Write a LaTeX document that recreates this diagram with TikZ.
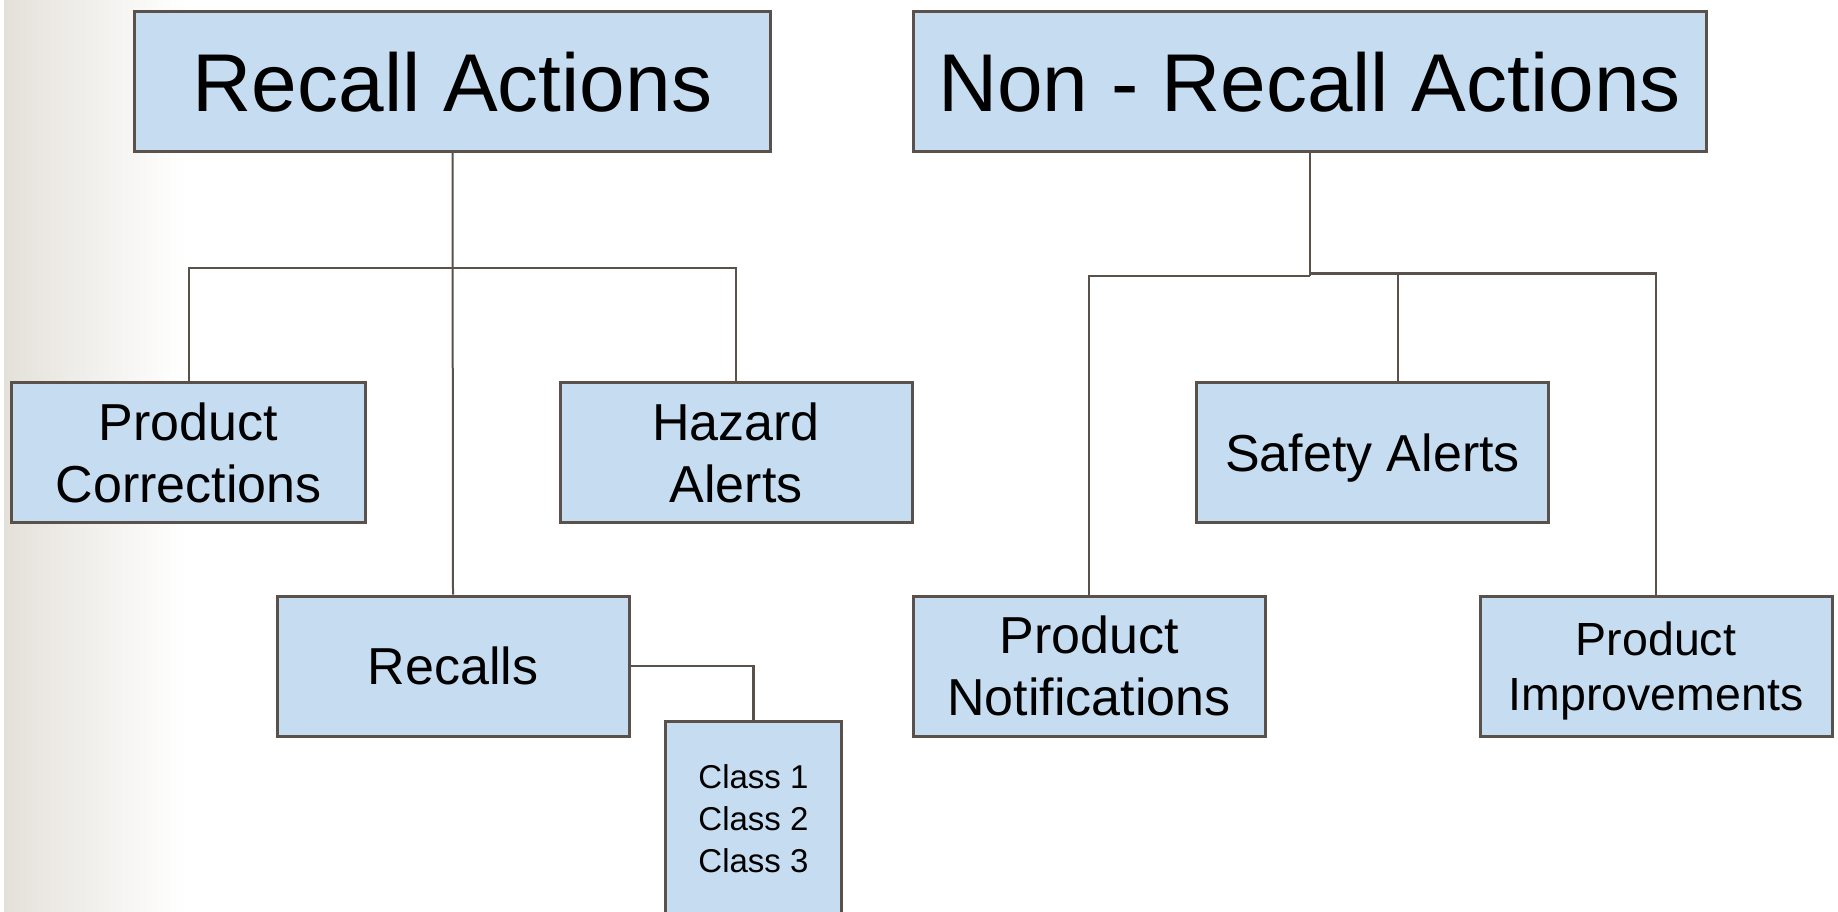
\documentclass[tikz,border=0pt]{standalone}
\usepackage{fontspec}
\setmainfont{Liberation Sans}
\usepackage{xcolor}
\usepackage{tikz}
\usetikzlibrary{calc,positioning}
\definecolor{boxfill}{RGB}{198,220,240}
\definecolor{boxline}{RGB}{90,82,74}
\definecolor{edgeshade}{RGB}{228,225,218}

\begin{document}
\begin{tikzpicture}[
  x=1pt, y=-1pt,
  box/.style={draw=boxline, fill=boxfill, line width=3pt, inner sep=0pt, align=center,
    text depth=0pt, minimum height=140pt, minimum width=352pt, font=\fontsize{52}{62}\selectfont},
  headbox/.style={box, font=\fontsize{82}{98}\selectfont},
  link/.style={draw=boxline, line width=2.2pt}
]
\useasboundingbox (0,0) rectangle (1838,911);
\fill[white] (0,0) rectangle (1838,911);
\shade[left color=edgeshade, right color=white] (4,0) rectangle (185,911);
\node[headbox, minimum width=636pt] (recall) at (452.5,81.5) {Recall Actions};
\node[headbox, minimum width=793pt] (nonrecall) at (1309.5,81.5) {Non - Recall Actions};
\node[box, minimum width=354pt] (corrections) at (188.5,452.5) {Product\\Corrections};
\node[box] (hazard) at (736,452.5) {Hazard\\Alerts};
\node[box] (recalls) at (453,666) {Recalls};
\node[box, minimum width=176pt, minimum height=195pt, font=\fontsize{33}{42.3}\selectfont] (classes) at (753.5,818.5) {Class 1\\Class 2\\Class 3};
\node[box] (safety) at (1372.5,452.5) {Safety Alerts};
\node[box] (notifications) at (1089,666) {Product\\Notifications};
\node[box, font=\fontsize{46.5}{55}\selectfont] (improvements) at (1656,666) {Product\\Improvements};
\coordinate (rj) at (453,267.5);
\coordinate (nj) at (1309.5,276);
\coordinate (nk) at (1309.5,273.5);
\coordinate (sj) at (1398,273.5);
\draw[link, line width=2pt] (recall.south) -- (recalls.north);
\draw[link, line width=2pt] (corrections.north) -- (corrections.north |- rj) -- (hazard.north |- rj) -- (hazard.north);
\draw[link] (recalls.east) -| (classes.north);
\draw[link, line width=2pt] (nonrecall.south) -- (nj);
\draw[link] (nj) -| (notifications.north);
\draw[link] (nk) -| (improvements.north);
\draw[link] (sj) -- (sj |- safety.north);
\end{tikzpicture}
\end{document}
